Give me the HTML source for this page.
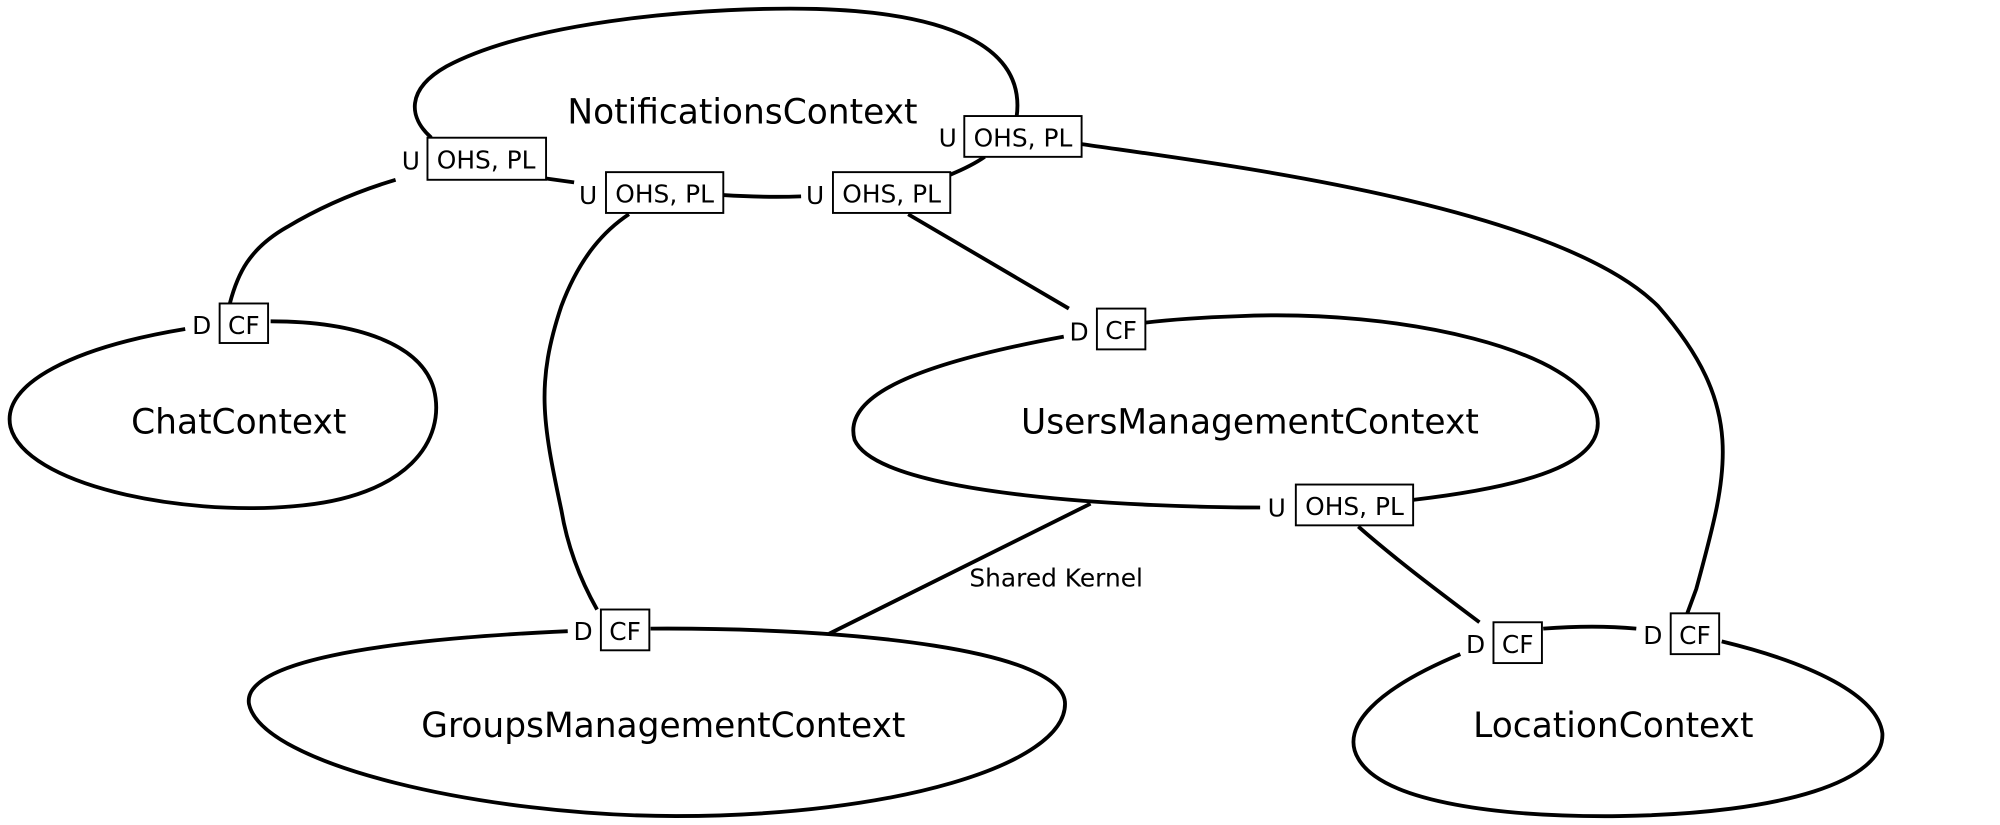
<!DOCTYPE html>
<html><head><meta charset="utf-8"><style>html,body{margin:0;padding:0;background:#fff}svg{display:block}</style></head>
<body>
<svg width="2000" height="825" viewBox="0 0 1568 647" xmlns="http://www.w3.org/2000/svg" font-family="'DejaVu Sans','Liberation Sans',sans-serif">
<g fill="none" stroke="#000" stroke-width="3">
<path d="M338,108 C320,92 318,70 350,52 C420,15 560,5 640,7 C740,10 805,35 797,92"/>
<path d="M428,140 L450,143"/>
<path d="M567,153 Q600,155 628,154"/>
<path d="M745,137 Q762,130 772,123"/>
<path d="M145,258 C60,272 0,300 8,335 C20,380 140,405 230,397 C320,390 350,345 340,305 C330,270 280,252 212,252"/>
<path d="M834,264 C720,285 660,310 670,345 C690,390 900,398 988,398"/>
<path d="M1108,392 C1210,380 1260,360 1252,325 C1240,275 1100,242 970,248 C940,249 915,251 898,253"/>
<path d="M445,495 C290,502 190,520 195,552 C205,600 380,640 530,640 C700,640 835,600 835,552 C835,510 670,492 510,493"/>
<path d="M1145,513 C1080,540 1050,570 1065,595 C1085,630 1180,641 1270,640 C1400,638 1478,612 1476,575 C1472,545 1420,520 1350,503"/>
<path d="M1210,493 Q1250,490 1283,493"/>
<path d="M180,238 C186,215 195,195 225,178 C250,163 280,150 310,141"/>
<path d="M468,478 C455,455 445,430 440,400 C425,330 420,300 440,240 C455,200 475,180 493,168"/>
<path d="M838,242 L712,168"/>
<path d="M1323,481 L1330,462 C1355,370 1370,320 1300,240 C1220,160 950,128 848,113"/>
<path d="M1160,488 C1120,458 1090,435 1065,413"/>
<path d="M650,497 L855,395"/>
</g>
<g fill="#fff" stroke="#000" stroke-width="1.5">
<rect x="335" y="108" width="93" height="33"/>
<rect x="475" y="135" width="92" height="32"/>
<rect x="653" y="135" width="92" height="32"/>
<rect x="756" y="91" width="92" height="32"/>
<rect x="172" y="238" width="38" height="31"/>
<rect x="860" y="242" width="38" height="32"/>
<rect x="1016" y="380" width="92" height="32"/>
<rect x="471" y="478" width="38" height="32"/>
<rect x="1171" y="488" width="38" height="32"/>
<rect x="1310" y="481" width="38" height="32"/>
</g>
<g font-size="19.5" fill="#000" text-anchor="middle">
<text x="381" y="132">OHS, PL</text><text x="322" y="133">U</text>
<text x="521" y="159">OHS, PL</text><text x="461" y="160">U</text>
<text x="699" y="159">OHS, PL</text><text x="639" y="160">U</text>
<text x="802" y="115">OHS, PL</text><text x="743" y="115">U</text>
<text x="191" y="262">CF</text><text x="158" y="262">D</text>
<text x="879" y="266">CF</text><text x="846" y="267">D</text>
<text x="1062" y="404">OHS, PL</text><text x="1001" y="405">U</text>
<text x="490" y="502">CF</text><text x="457" y="502">D</text>
<text x="1190" y="512">CF</text><text x="1157" y="512">D</text>
<text x="1329" y="505">CF</text><text x="1296" y="505">D</text>
</g>
<text x="760" y="460" font-size="19.5">Shared Kernel</text>
<g font-size="27" text-anchor="middle">
<text x="582" y="97">NotificationsContext</text>
<text x="187" y="340">ChatContext</text>
<text x="980" y="340">UsersManagementContext</text>
<text x="520" y="578">GroupsManagementContext</text>
<text x="1265" y="578">LocationContext</text>
</g>
</svg>
</body></html>
